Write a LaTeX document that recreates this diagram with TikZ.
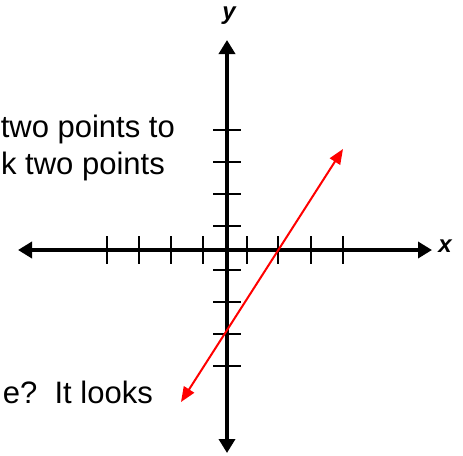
\documentclass[tikz,border=0pt]{standalone}
\usepackage{fontspec}
\setmainfont{Liberation Sans}
\usetikzlibrary{arrows.meta}
\begin{document}
\begin{tikzpicture}[x=1pt,y=-1pt,
  axis/.style={line width=4pt,
               {Triangle[length=14pt,width=16pt]}-{Triangle[length=14pt,width=16pt]}},
  tickmark/.style={line width=2pt},
  graph/.style={draw=red, line width=2pt,
                {Triangle[length=15pt,width=12pt]}-{Triangle[length=15pt,width=12pt]}},
  lbl/.style={font=\fontsize{24}{24}\selectfont\bfseries\itshape, inner sep=0pt},
  txt/.style={font=\fontsize{31}{37}\selectfont, anchor=base east, inner sep=0pt}
]
\clip (0,0) rectangle (463,455);

%% axes
\coordinate (O) at (227,250);
\coordinate (xl) at (18,250);
\coordinate (xr) at (432,250);
\coordinate (yt) at (227,40);
\coordinate (yb) at (227,453);
\draw[axis] (xl) -- (xr);
\draw[axis] (yb) -- (yt);
\node[lbl] (xlab) at (445,246) {x};
\node[lbl] (ylab) at (229,16) {y};

%% ticks
\foreach \t in {107,139,171,203,247,278,311,343}
  \draw[tickmark] (\t,236) -- (\t,264);
\foreach \t in {130,162,194,226,270,302,334,366}
  \draw[tickmark] (213,\t) -- (241,\t);

%% the line
\coordinate (p1) at (181,402);
\coordinate (p2) at (343,149);
\draw[graph] (p1) -- (p2);

%% text
\node[txt] (t1) at (175,137) {two points to};
\node[txt] (t2) at (165,174) {k two points};
\node[txt] (t3) at (153,403) {e?\ \ It looks};

\end{tikzpicture}
\end{document}
